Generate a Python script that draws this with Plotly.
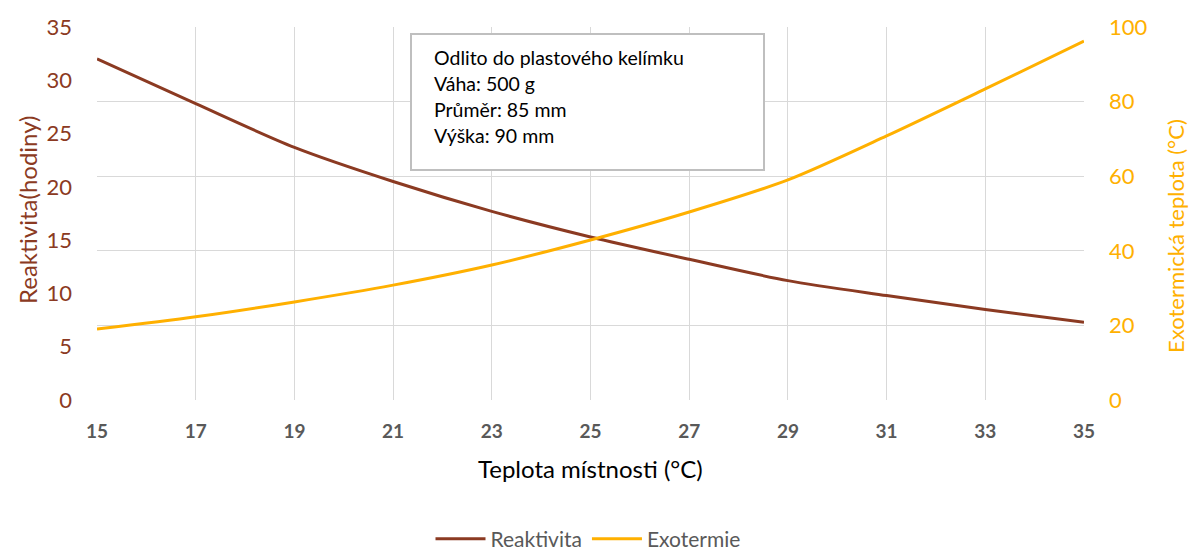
import plotly.graph_objects as go

teplota = [15, 17, 19, 21, 23, 25, 27, 29, 31, 33, 35]
reaktivita = [32.0, 27.8, 23.7, 20.5, 17.7, 15.3, 13.2, 11.2, 9.8, 8.5, 7.3]
exotermie = [19.0, 22.3, 26.3, 30.8, 36.2, 42.9, 50.4, 59.0, 70.8, 83.4, 96.2]
info_lines = ["Odlito do plastového kelímku", "Váha: 500 g", "Průměr: 85 mm", "Výška: 90 mm"]

BROWN = "#8B3A22"
ORANGE = "#FFB000"
FONT = "Lato"

L, R, T, B = 97, 1084, 27, 400
W, H = 1190, 552


def px(x):
    return (x - L) / (R - L)


def py(y):
    return (B - y) / (B - T)


fig = go.Figure()
fig.add_trace(go.Scatter(x=teplota, y=reaktivita, name="Reaktivita", mode="lines",
                         line=dict(color=BROWN, width=3, shape="spline", smoothing=0.8)))
fig.add_trace(go.Scatter(x=teplota, y=exotermie, name="Exotermie", mode="lines", yaxis="y2",
                         line=dict(color=ORANGE, width=3, shape="spline", smoothing=0.8)))

fig.update_layout(
    width=W, height=H,
    margin=dict(l=L, r=W - R, t=T, b=H - B, autoexpand=False),
    paper_bgcolor="white", plot_bgcolor="white",
    font=dict(family=FONT),
    xaxis=dict(range=[15, 35], tickvals=teplota, showgrid=True, gridcolor="#d9d9d9", gridwidth=1,
               zeroline=False, showline=False, automargin=False,
               tickfont=dict(size=19, color="#595959", family=FONT, weight="bold"),
               ticklabelstandoff=18),
    yaxis=dict(range=[0, 35], dtick=5, showgrid=False, zeroline=False, showline=False, automargin=False,
               tickfont=dict(size=22, color=BROWN), ticklabelstandoff=24),
    yaxis2=dict(range=[0, 100], dtick=20, overlaying="y", side="right", showgrid=True, automargin=False,
                gridcolor="#d9d9d9", gridwidth=1, zeroline=False, showline=False,
                tickfont=dict(size=22, color=ORANGE), ticklabelstandoff=24),
    legend=dict(orientation="h", x=px(588), xanchor="center", y=py(539), yanchor="middle",
                font=dict(size=21, color="#595959"), itemwidth=50, tracegroupgap=0),
    showlegend=True,
)

# axis titles
fig.add_annotation(xref="paper", yref="paper", x=px(590), y=py(468), xanchor="center", yanchor="middle",
                   text="Teplota místnosti (°C)", showarrow=False,
                   font=dict(size=24, color="#000000", family=FONT))
fig.add_annotation(xref="paper", yref="paper", x=px(27), y=py(210), xanchor="center", yanchor="middle",
                   text="Reaktivita(hodiny)", showarrow=False, textangle=-90,
                   font=dict(size=24, color=BROWN, family=FONT))
fig.add_annotation(xref="paper", yref="paper", x=px(1176), y=py(236), xanchor="center", yanchor="middle",
                   text="Exotermická teplota (°C)", showarrow=False, textangle=-90,
                   font=dict(size=22, color=ORANGE, family=FONT))

# info box
fig.add_shape(type="rect", xref="paper", yref="paper", x0=px(411), x1=px(764), y0=py(170), y1=py(34),
              line=dict(color="#bfbfbf", width=2), fillcolor="white", layer="above")
for i, t in enumerate(info_lines):
    fig.add_annotation(xref="paper", yref="paper", x=px(432), y=py(57 + 26.3 * i),
                       xanchor="left", yanchor="middle", text=t, showarrow=False,
                       font=dict(size=19.5, color="#000000", family=FONT))

fig.write_html("out.html", config={"displayModeBar": False},
               post_script="document.body.style.margin='0';")
